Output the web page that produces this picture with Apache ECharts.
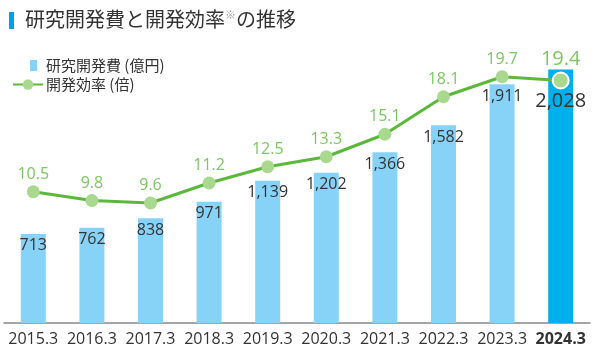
<!DOCTYPE html>
<html>
<head>
<meta charset="utf-8">
<script src="https://cdn.jsdelivr.net/npm/echarts@6/dist/echarts.min.js"></script>
<style>
html, body { margin: 0; padding: 0; background: #fff; }
#chart { width: 599px; height: 351px; }
</style>
</head>
<body>
<div id="chart"></div>
<script>
const categories = ['2015.3', '2016.3', '2017.3', '2018.3', '2019.3', '2020.3', '2021.3', '2022.3', '2023.3', '2024.3'];
const rdCost = [713, 762, 838, 971, 1139, 1202, 1366, 1582, 1911, 2028];
const efficiency = [10.5, 9.8, 9.6, 11.2, 12.5, 13.3, 15.1, 18.1, 19.7, 19.4];

const FONT = '"Open Sans", "Noto Sans CJK JP", sans-serif';
const JP = '"Noto Sans CJK JP", sans-serif';
const last = categories.length - 1;

const fmt = (v) => v.toLocaleString('en-US');

const myChart = echarts.init(document.getElementById('chart'));

const barData = rdCost.map((v, i) => {
    if (i !== last) return v;
    return {
        value: v,
        itemStyle: { color: '#00b0ec' },
        label: { fontSize: 20, offset: [0, 18] }
    };
});

const lineData = efficiency.map((v, i) => {
    if (i !== last) return v;
    return {
        value: v,
        symbolSize: 16,
        itemStyle: { color: '#a9d98f', borderColor: '#fff', borderWidth: 2 },
        label: { fontSize: 20, distance: 2 }
    };
});

const option = {
    animation: false,
    textStyle: { fontFamily: FONT },
    graphic: [
        { type: 'rect', shape: { x: 9, y: 12, width: 5, height: 17 }, style: { fill: '#00a0e9' } },
        {
            type: 'text', left: 25, top: 9,
            style: {
                text: '{a|研究開発費と開発効率}{s|※}{a|の推移}',
                rich: {
                    a: { fontSize: 20, fontFamily: JP, fill: '#333' },
                    s: { fontSize: 11, fontFamily: JP, fill: '#999', verticalAlign: 'top', padding: [0, 0, 9, 0] }
                }
            }
        }
    ],
    legend: [
        {
            data: ['研究開発費 (億円)'],
            left: 25, top: 53,
            itemWidth: 7, itemHeight: 11,
            icon: 'rect',
            textStyle: { fontFamily: JP, fontSize: 15, color: '#333', padding: [0, 0, 0, 4] }
        },
        {
            data: ['開発効率 (倍)'],
            left: 7, top: 72,
            itemWidth: 30, itemHeight: 13,
            textStyle: { fontFamily: JP, fontSize: 15, color: '#333', padding: [0, 0, 0, -2] }
        }
    ],
    grid: { left: 4, right: 9, top: 10.5, bottom: 28, containLabel: false },
    xAxis: {
        type: 'category',
        data: categories,
        axisTick: { show: false },
        axisLine: { lineStyle: { color: '#888', width: 1.5 } },
        axisLabel: {
            interval: 0,
            fontSize: 16, color: '#333', margin: 8,
            formatter: (v, i) => i === last ? '{b|' + v + '}' : v,
            rich: { b: { fontSize: 16, fontWeight: 'bold', color: '#333', fontFamily: FONT } }
        }
    },
    yAxis: [
        { type: 'value', min: 0, max: 2500, show: false, splitLine: { show: false } },
        { type: 'value', min: 0, max: 25, show: false, splitLine: { show: false } }
    ],
    series: [
        {
            name: '研究開発費 (億円)',
            type: 'bar',
            data: barData,
            barWidth: 25,
            itemStyle: { color: '#87d3f8' },
            label: {
                show: true,
                position: 'insideTop',
                distance: 4,
                fontSize: 16,
                color: '#333',
                formatter: (p) => fmt(p.value)
            },
            z: 2
        },
        {
            name: '開発効率 (倍)',
            type: 'line',
            yAxisIndex: 1,
            data: lineData,
            symbol: 'circle',
            symbolSize: 13,
            lineStyle: { color: '#5cb83a', width: 3 },
            itemStyle: { color: '#a9d98f' },
            label: {
                show: true,
                position: 'top',
                distance: 3,
                fontSize: 16,
                color: '#7cc760',
                formatter: (p) => p.value.toFixed(1)
            },
            z: 5
        }
    ]
};

myChart.setOption(option);
</script>
</body>
</html>
